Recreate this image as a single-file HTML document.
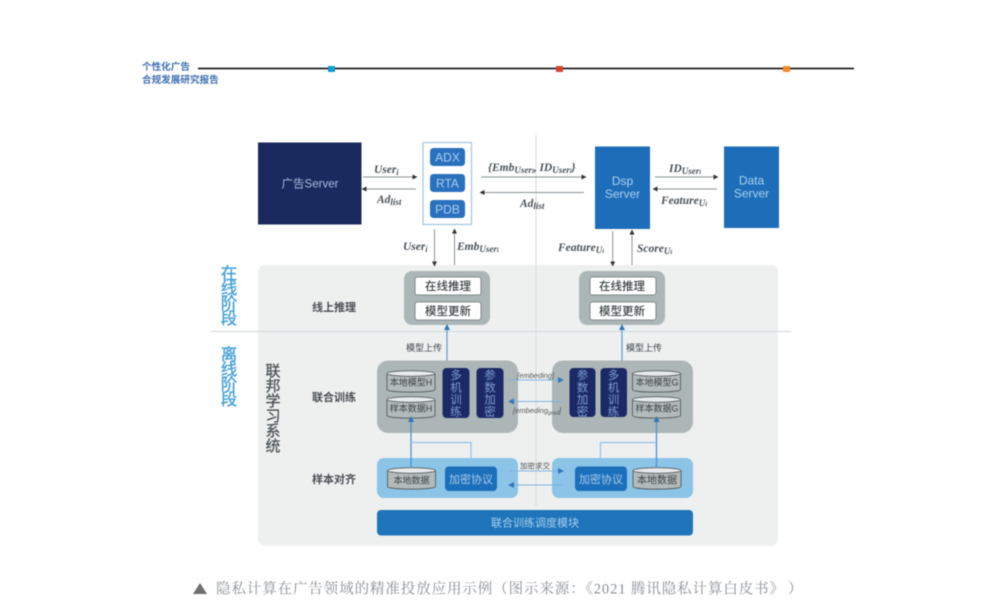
<!DOCTYPE html>
<html><head><meta charset="utf-8"><style>
html,body{margin:0;padding:0;background:#fff;width:1000px;height:612px;overflow:hidden}
svg{display:block;filter:blur(.45px)}
text{font-family:"Liberation Sans","Noto Sans CJK SC",sans-serif}
.m{font-family:"Liberation Serif","Noto Serif CJK SC",serif;font-style:italic;font-weight:700;font-size:11.5px;fill:#4a5158}
.s{font-size:9px}
.l{font-size:11px;font-weight:700;fill:#4a4f52;text-anchor:middle}
.w{font-size:11.5px;font-weight:500;fill:#3f4446;text-anchor:middle}
.c{font-size:9px;fill:#3f4447;text-anchor:middle}
.d{font-size:11.5px;fill:#7f9bd0;text-anchor:middle}
.b{font-size:12px;fill:#a9d0ef;text-anchor:middle}
.p{font-size:11px;fill:#a7cbee;text-anchor:middle}
</style></head><body>
<svg width="1000" height="612" viewBox="0 0 1000 612" xmlns="http://www.w3.org/2000/svg">
<defs>
<marker id="k" markerWidth="5" markerHeight="5" refX="3.5" refY="2.5" orient="auto" markerUnits="userSpaceOnUse"><path d="M0 0L5 2.5L0 5z" fill="#333"/></marker>
<marker id="u" markerWidth="6" markerHeight="6" refX="4" refY="3" orient="auto" markerUnits="userSpaceOnUse"><path d="M0 0L6 3L0 6z" fill="#2f78bd"/></marker>
<g id="cy">
<path d="M0 3.5V19.5C0 23 48 23 48 19.5V3.5" fill="#b3baba" stroke="#565c5c" stroke-width=".9"/>
<ellipse cx="24" cy="3.5" rx="24" ry="2.8" fill="#e6eaea" stroke="#565c5c" stroke-width=".9"/>
</g>
</defs>

<!-- header -->
<text x="142" y="70" font-size="9.6" font-weight="700" fill="#3f6fb0">个性化广告</text>
<text x="142" y="83" font-size="9.6" font-weight="700" fill="#3f6fb0">合规发展研究报告</text>
<line x1="198" y1="68.5" x2="854" y2="68.5" stroke="#000" stroke-width="1.5"/>
<rect x="328" y="66" width="7" height="6" fill="#0d9bd0"/>
<rect x="556" y="66" width="7" height="6" fill="#d6442f"/>
<rect x="783" y="66" width="7" height="6" fill="#f0892a"/>

<!-- panel -->
<rect x="258" y="265" width="520" height="281" rx="7" fill="#eef0f0"/>
<line x1="536" y1="135" x2="536" y2="506" stroke="#d4dadc" stroke-width="1"/>
<line x1="211" y1="331.5" x2="791" y2="331.5" stroke="#cfd7da" stroke-width="1"/>

<!-- top boxes -->
<rect x="258" y="142.5" width="103.5" height="82" fill="#1b2a5e"/>
<text x="310" y="187.5" font-size="11.5" fill="#a9bddd" text-anchor="middle">广告Server</text>
<rect x="423" y="142.5" width="48.5" height="82" fill="#fff" stroke="#a8c8e2" stroke-width="1.3"/>
<rect x="430" y="148" width="35" height="18" rx="3.5" fill="#2a70bd"/>
<rect x="430" y="174" width="35" height="18" rx="3.5" fill="#2a70bd"/>
<rect x="430" y="200" width="35" height="18" rx="3.5" fill="#2a70bd"/>
<text x="447.500" y="161.500" class="b">ADX</text>
<text x="447.500" y="187.500" class="b">RTA</text>
<text x="447.500" y="213.500" class="b">PDB</text>
<rect x="595" y="146.500" width="55" height="82.500" fill="#1e6db8"/>
<text x="622.500" y="185" class="b">Dsp</text>
<text x="622.500" y="198" class="b">Server</text>
<rect x="724" y="146.500" width="55" height="81.500" fill="#1e6db8"/>
<text x="751.500" y="184.500" class="b">Data</text>
<text x="751.500" y="197.500" class="b">Server</text>

<!-- black/grey arrows -->
<g stroke="#8a9295" stroke-width="1" fill="none">
<line x1="363" y1="177" x2="416" y2="177" marker-end="url(#k)"/>
<line x1="416" y1="189" x2="363" y2="189" marker-end="url(#k)"/>
<line x1="481" y1="177" x2="585" y2="177" marker-end="url(#k)"/>
<line x1="584" y1="192.500" x2="481" y2="192.500" marker-end="url(#k)"/>
<line x1="655" y1="177" x2="717" y2="177" marker-end="url(#k)"/>
<line x1="717" y1="189" x2="654" y2="189" marker-end="url(#k)"/>
<line x1="434.500" y1="229" x2="434.500" y2="265" marker-end="url(#k)"/>
<line x1="454.500" y1="265" x2="454.500" y2="230" marker-end="url(#k)"/>
<line x1="612.700" y1="231" x2="612.700" y2="265" marker-end="url(#k)"/>
<line x1="632" y1="265" x2="632" y2="231" marker-end="url(#k)"/>
</g>

<!-- math labels -->
<text class="m" x="374" y="173">User<tspan font-size="8" dy="2">i</tspan></text>
<text class="m" x="377" y="203">Ad<tspan class="s" dy="2">list</tspan></text>
<text class="m" x="488" y="171">{Emb<tspan class="s" dy="2">User<tspan font-size="6.5">i</tspan></tspan><tspan dy="-2">, ID</tspan><tspan class="s" dy="2">User<tspan font-size="6.5">i</tspan></tspan><tspan dy="-2">}</tspan></text>
<text class="m" x="520" y="207">Ad<tspan class="s" dy="2">list</tspan></text>
<text class="m" x="669" y="172">ID<tspan class="s" dy="2">User<tspan font-size="6.5">i</tspan></tspan></text>
<text class="m" x="661" y="204">Feature<tspan class="s" dy="2">U<tspan font-size="6.5">i</tspan></tspan></text>
<text class="m" x="403" y="250">User<tspan font-size="8" dy="2">i</tspan></text>
<text class="m" x="457" y="250">Emb<tspan class="s" dy="2">User<tspan font-size="6.5">i</tspan></tspan></text>
<text class="m" x="558" y="251">Feature<tspan class="s" dy="2">U<tspan font-size="6.5">i</tspan></tspan></text>
<text class="m" x="637" y="252">Score<tspan class="s" dy="2">U<tspan font-size="6.5">i</tspan></tspan></text>

<!-- side labels -->
<g font-size="16.500" fill="#45a0d8" stroke="#45a0d8" stroke-width=".35" text-anchor="middle">
<text x="229" y="279">在</text><text x="229" y="294">线</text><text x="229" y="309">阶</text><text x="229" y="324">段</text>
<text x="229" y="360">离</text><text x="229" y="375">线</text><text x="229" y="390">阶</text><text x="229" y="405">段</text>
</g>
<g font-size="15" fill="#4a4f52" stroke="#4a4f52" stroke-width=".25" text-anchor="middle">
<text x="273" y="376">联</text><text x="273" y="391">邦</text><text x="273" y="406">学</text><text x="273" y="421">习</text><text x="273" y="436">系</text><text x="273" y="451">统</text>
</g>
<text class="l" x="334" y="311">线上推理</text>
<text class="l" x="334" y="401">联合训练</text>
<text class="l" x="334" y="483">样本对齐</text>

<!-- online boxes -->
<rect x="404" y="271" width="86" height="54" rx="8" fill="#adb6b6"/>
<rect x="415" y="277" width="66" height="18" rx="2.500" fill="#fff" stroke="#7f8a8a"/>
<rect x="415" y="302" width="66" height="18" rx="2.500" fill="#fff" stroke="#7f8a8a"/>
<text class="w" x="448" y="290">在线推理</text>
<text class="w" x="448" y="315">模型更新</text>
<rect x="579" y="271" width="86" height="54" rx="8" fill="#adb6b6"/>
<rect x="590" y="277" width="66" height="18" rx="2.500" fill="#fff" stroke="#7f8a8a"/>
<rect x="590" y="302" width="66" height="18" rx="2.500" fill="#fff" stroke="#7f8a8a"/>
<text class="w" x="622" y="290">在线推理</text>
<text class="w" x="622" y="315">模型更新</text>

<!-- upload arrows -->
<line x1="447" y1="361" x2="447" y2="326" stroke="#5b9bd5" stroke-width="1.200" marker-end="url(#u)"/>
<line x1="622" y1="361" x2="622" y2="326" stroke="#5b9bd5" stroke-width="1.200" marker-end="url(#u)"/>
<text class="c" x="424" y="351">模型上传</text>
<text class="c" x="644" y="351">模型上传</text>

<!-- federated boxes -->
<rect x="377" y="360.500" width="141" height="72.500" rx="11" fill="#adb6b6"/>
<rect x="552" y="360.500" width="141" height="72.500" rx="11" fill="#adb6b6"/>
<use href="#cy" x="387" y="370"/>
<use href="#cy" x="387" y="396"/>
<use href="#cy" x="632.500" y="370"/>
<use href="#cy" x="632.500" y="396"/>
<text class="c" x="411" y="385.500">本地模型H</text>
<text class="c" x="411" y="411.500">样本数据H</text>
<text class="c" x="657" y="385.500">本地模型G</text>
<text class="c" x="657" y="411.500">样本数据G</text>
<rect x="442.500" y="368" width="27" height="50" rx="4" fill="#1b2a67"/>
<rect x="476.500" y="368" width="27" height="50" rx="4" fill="#1b2a67"/>
<rect x="569.500" y="368" width="26" height="49" rx="4" fill="#1b2a67"/>
<rect x="600.500" y="368" width="26.500" height="49" rx="4" fill="#1b2a67"/>
<g>
<text class="d" x="456" y="379">多</text><text class="d" x="456" y="391.500">机</text><text class="d" x="456" y="403.500">训</text><text class="d" x="456" y="415.500">练</text>
<text class="d" x="490" y="379">参</text><text class="d" x="490" y="391.500">数</text><text class="d" x="490" y="403.500">加</text><text class="d" x="490" y="415.500">密</text>
<text class="d" x="582.500" y="379">参</text><text class="d" x="582.500" y="391.500">数</text><text class="d" x="582.500" y="403.500">加</text><text class="d" x="582.500" y="415.500">密</text>
<text class="d" x="613.500" y="379">多</text><text class="d" x="613.500" y="391.500">机</text><text class="d" x="613.500" y="403.500">训</text><text class="d" x="613.500" y="415.500">练</text>
</g>

<!-- align boxes -->
<rect x="377" y="458" width="141" height="40" rx="7" fill="#8bc4e7"/>
<rect x="552" y="458" width="141" height="40" rx="7" fill="#8bc4e7"/>
<rect x="445" y="466.500" width="52" height="24.500" rx="4" fill="#1c6fba"/>
<rect x="575" y="466.500" width="52" height="24.500" rx="4" fill="#1c6fba"/>
<text class="p" x="471" y="483">加密协议</text>
<text class="p" x="601" y="483">加密协议</text>
<use href="#cy" x="387.500" y="467"/>
<use href="#cy" x="633" y="467"/>
<text class="c" x="411.500" y="483.500">本地数据</text>
<text class="c" x="657" y="483.500" font-size="10" style="font-size:10px">本地数据</text>

<!-- sched -->
<rect x="377" y="510" width="316" height="25.500" rx="4" fill="#1f74ba"/>
<text x="535" y="526.500" font-size="11" fill="#a9d0ef" text-anchor="middle">联合训练调度模块</text>

<!-- blue connectors -->
<line x1="411" y1="468" x2="411" y2="418" stroke="#4f8fce" stroke-width="1.300" marker-end="url(#u)"/>
<line x1="656.500" y1="468" x2="656.500" y2="418" stroke="#4f8fce" stroke-width="1.300" marker-end="url(#u)"/>
<path d="M411 442.500H471V466" fill="none" stroke="#97c0e6" stroke-width="1.200"/>
<path d="M656.500 442.500H600.500V466" fill="none" stroke="#97c0e6" stroke-width="1.200"/>
<g stroke="#7fb2e0" stroke-width="1" fill="none">
<line x1="510" y1="380" x2="562" y2="380" marker-end="url(#u)"/>
<line x1="562" y1="401.500" x2="510" y2="401.500" marker-end="url(#u)"/>
<line x1="510" y1="471" x2="562" y2="471" marker-end="url(#u)"/>
<line x1="562" y1="485" x2="510" y2="485" marker-end="url(#u)"/>
</g>
<text x="517" y="378" font-family="Liberation Serif" font-style="italic" font-size="7.500" fill="#555">[embeding]</text>
<text x="513" y="413" font-family="Liberation Serif" font-style="italic" font-size="7.500" fill="#555">[embeding<tspan font-size="5.500" dy="1.500">grad</tspan><tspan dy="-1.500">]</tspan></text>
<text x="535" y="468.500" font-size="7.500" fill="#4a5054" text-anchor="middle">加密求交</text>

<!-- caption -->
<path d="M193 594L200 583L207 594z" fill="#6f6f6f"/>
<text x="216" y="593.500" font-size="14.500" fill="#8a8f94" textLength="568" lengthAdjust="spacing" style="font-family:'Liberation Serif','Noto Serif CJK SC',serif">隐私计算在广告领域的精准投放应用示例（图示来源：《2021 腾讯隐私计算白皮书》</text>
<text x="788" y="593.500" font-size="14.500" fill="#8a8f94" style="font-family:'Liberation Serif','Noto Serif CJK SC',serif">）</text>
</svg>
</body></html>
